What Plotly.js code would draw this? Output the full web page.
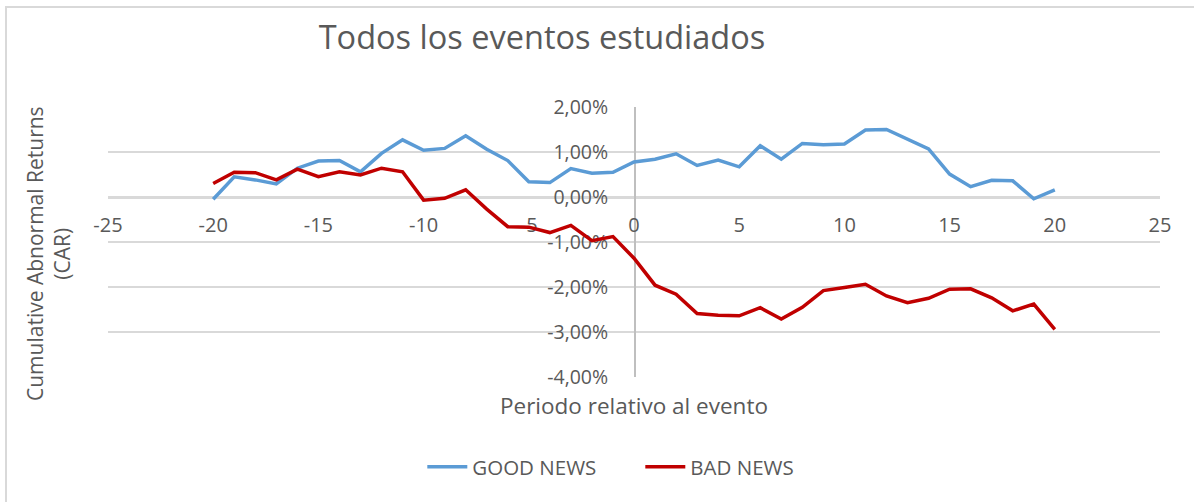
<!DOCTYPE html>
<html>
<head>
<meta charset="utf-8">
<script src="https://cdn.plot.ly/plotly-3.0.1.min.js"></script>
<style>
  html, body { margin: 0; padding: 0; background: #ffffff; overflow: hidden; }
  #wrap { position: relative; width: 1194px; height: 502px; }
  #chart { position: absolute; left: 0; top: 0; width: 1194px; height: 502px; }
  #frame { position: absolute; left: 5px; top: 6px; width: 1300px; height: 600px;
           border-left: 2px solid #d9d9d9; border-top: 2px solid #d9d9d9; pointer-events: none; }
</style>
</head>
<body>
<div id="wrap">
  <div id="chart"></div>
  <div id="frame"></div>
</div>
<script>
// Relative period (days around the event)
const periods = [-20,-19,-18,-17,-16,-15,-14,-13,-12,-11,-10,-9,-8,-7,-6,-5,-4,-3,-2,-1,0,1,2,3,4,5,6,7,8,9,10,11,12,13,14,15,16,17,18,19,20];
// Cumulative abnormal returns, in percent
const goodNews = [-0.05,0.45,0.38,0.29,0.64,0.80,0.81,0.56,0.97,1.27,
                  1.04,1.08,1.36,1.06,0.81,0.34,0.32,0.63,0.53,0.55,
                  0.78,0.84,0.96,0.70,0.82,0.67,1.14,0.84,1.19,1.16,1.18,
                  1.49,1.50,1.28,1.07,0.51,0.23,0.37,0.36,-0.04,0.16];
const badNews = [0.30,0.55,0.54,0.38,0.62,0.45,0.56,0.49,0.64,0.56,
                 -0.07,-0.03,0.16,-0.27,-0.66,-0.67,-0.79,-0.63,-0.97,-0.88,
                 -1.36,-1.96,-2.16,-2.59,-2.63,-2.64,-2.46,-2.71,-2.45,-2.08,-2.01,
                 -1.94,-2.20,-2.35,-2.25,-2.05,-2.04,-2.24,-2.53,-2.38,-2.94];
const xTickVals = [-25,-20,-15,-10,-5,0,5,10,15,20,25];
const xTickText = ["-25","-20","-15","-10","-5","0","5","10","15","20","25"];
const yTickVals = [2,1,0,-1,-2,-3,-4];
const yTickText = ["2,00%","1,00%","0,00%","-1,00%","-2,00%","-3,00%","-4,00%"];
const seriesNames = ["GOOD NEWS","BAD NEWS"];

const FONT = "Open Sans, Noto Sans, sans-serif";
const GREY = "#595959";

const traces = [
  { x: periods, y: goodNews, name: seriesNames[0], type: "scatter", mode: "lines",
    line: { color: "#5B9BD5", width: 3.5 }, hoverinfo: "skip" },
  { x: periods, y: badNews, name: seriesNames[1], type: "scatter", mode: "lines",
    line: { color: "#C00000", width: 3.5 }, hoverinfo: "skip" }
];

const layout = {
  width: 1194, height: 502,
  margin: { l: 108, r: 34, t: 107, b: 125, autoexpand: false },
  paper_bgcolor: "rgba(0,0,0,0)", plot_bgcolor: "rgba(0,0,0,0)",
  font: { family: FONT, color: GREY, size: 19 },
  title: { text: "Todos los eventos estudiados", font: { family: FONT, size: 32.5, color: GREY },
           xref: "container", yref: "container", x: 542/1194, xanchor: "center",
           y: 1 - 38/502, yanchor: "middle" },
  xaxis: {
    range: [-25, 25], domain: [0, 1], anchor: "free", position: 2/3,
    tickmode: "array", tickvals: xTickVals, ticktext: xTickText,
    showgrid: false, zeroline: false, showline: true, linecolor: "#d9d9d9", linewidth: 1.5,
    ticks: "", ticklabelstandoff: 9, tickfont: { family: FONT, size: 20, color: GREY },
    layer: "below traces", fixedrange: true, automargin: false
  },
  yaxis: {
    range: [-4, 2], domain: [0, 1], anchor: "free", position: 0.5,
    tickmode: "array", tickvals: yTickVals, ticktext: yTickText,
    showgrid: true, gridcolor: "#d9d9d9", gridwidth: 1.5,
    zeroline: false, showline: true, linecolor: "#bfbfbf", linewidth: 1.5,
    ticks: "", ticklabelstandoff: 22, tickfont: { family: FONT, size: 19.5, color: GREY },
    layer: "below traces", fixedrange: true, automargin: false
  },
  showlegend: true,
  legend: { orientation: "h", x: 0.506, xanchor: "center", y: -0.333, yanchor: "middle",
            font: { family: FONT, size: 20.5, color: GREY }, itemwidth: 40,
            entrywidth: 163, entrywidthmode: "pixels",
            bgcolor: "rgba(0,0,0,0)", tracegroupgap: 0 },
  annotations: [
    { text: "Periodo relativo al evento", xref: "paper", yref: "paper",
      x: 0.5, y: (377 - 405) / 270, xanchor: "center", yanchor: "middle", showarrow: false,
      font: { family: FONT, size: 22.5, color: GREY } },
    { text: "Cumulative Abnormal Returns<br>(CAR)", xref: "paper", yref: "paper",
      x: (48 - 108) / 1052, y: (377 - 254) / 270, xanchor: "center", yanchor: "middle",
      textangle: -90, showarrow: false, align: "center",
      font: { family: FONT, size: 21, color: GREY } }
  ]
};

Plotly.newPlot("chart", traces, layout, { staticPlot: true, displayModeBar: false });
</script>
</body>
</html>
